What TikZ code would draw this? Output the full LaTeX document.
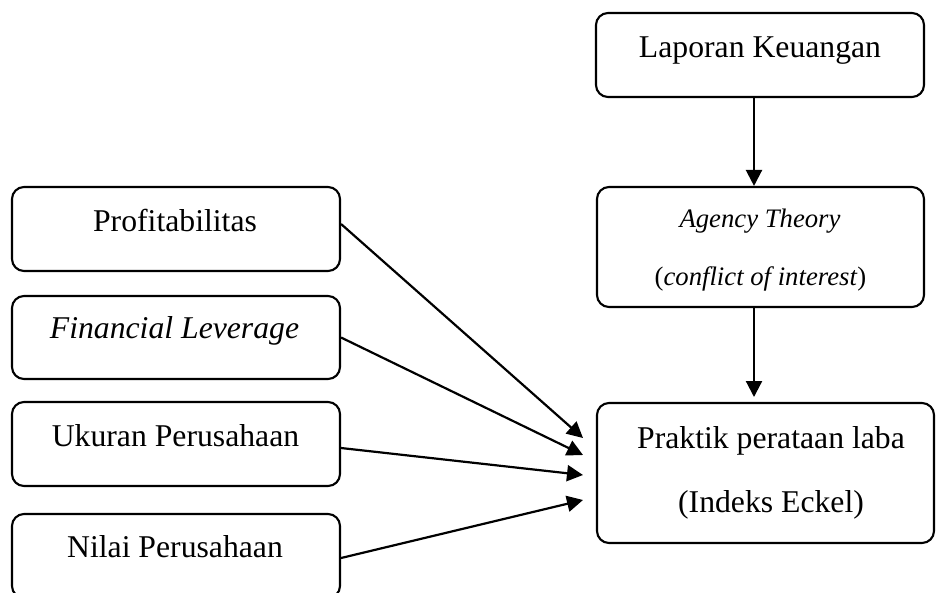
\documentclass[tikz,border=0pt]{standalone}
\usepackage{fontspec}
\setmainfont{Liberation Serif}
\usetikzlibrary{arrows.meta}
\tikzset{
  box/.style={draw, line width=2.1pt, rounded corners=12pt, inner sep=0pt},
  txt/.style={anchor=base, inner sep=0pt, font=\fontsize{31.7}{38}\selectfont},
  stxt/.style={anchor=base, inner sep=0pt, font=\fontsize{26.7}{32}\selectfont},
  arr/.style={line width=2.2pt, -{Triangle[length=16pt,width=16pt]}}
}
\begin{document}
\begin{tikzpicture}[x=1pt,y=-1pt]
\useasboundingbox (0,0) rectangle (936,592);
% right column
\node[box, minimum width=328pt, minimum height=84pt] (lapbox) at (760,55) {};
\node[txt] (laptxt) at (760,57) {Laporan Keuangan};
\node[box, minimum width=327pt, minimum height=120pt] (agbox) at (760.5,247) {};
\node[stxt] (agtxt1) at (760,227) {\itshape Agency Theory};
\node[stxt] (agtxt2) at (760.5,285) {(\textit{conflict of interest})};
\node[box, minimum width=337pt, minimum height=140pt] (prbox) at (765.5,473) {};
\node[txt] (prtxt1) at (771,448) {Praktik perataan laba};
\node[txt] (prtxt2) at (771,512) {(Indeks Eckel)};
% left column
\node[box, minimum width=328pt, minimum height=84pt] (profbox) at (176,229) {};
\node[txt] (proftxt) at (175,231) {Profitabilitas};
\node[box, minimum width=328pt, minimum height=83pt] (finbox) at (176,337.5) {};
\node[txt] (fintxt) at (174.5,338) {\itshape Financial Leverage};
\node[box, minimum width=328pt, minimum height=84pt] (ukbox) at (176,444) {};
\node[txt] (uktxt) at (175.5,446) {Ukuran Perusahaan};
\node[box, minimum width=328pt, minimum height=84pt] (nilbox) at (176,556) {};
\node[txt] (niltxt) at (175,557) {Nilai Perusahaan};
% arrow end points
\coordinate (t1) at (583,438);
\coordinate (t2) at (583,455);
\coordinate (t3) at (583,475);
\coordinate (t4) at (583,500);
\coordinate (t5) at (754,397);
% connectors
\draw[arr] ([xshift=-6pt]lapbox.south) -- ([xshift=-6.5pt]agbox.north);
\draw[arr] ([xshift=-6.5pt]agbox.south) -- (t5);
\draw[arr] ([yshift=5pt]profbox.east) -- (t1);
\draw[arr] (finbox.east) -- (t2);
\draw[arr] ([yshift=-4pt]ukbox.east) -- (t3);
\draw[arr] ([yshift=-2pt]nilbox.east) -- (t4);
\end{tikzpicture}
\end{document}
